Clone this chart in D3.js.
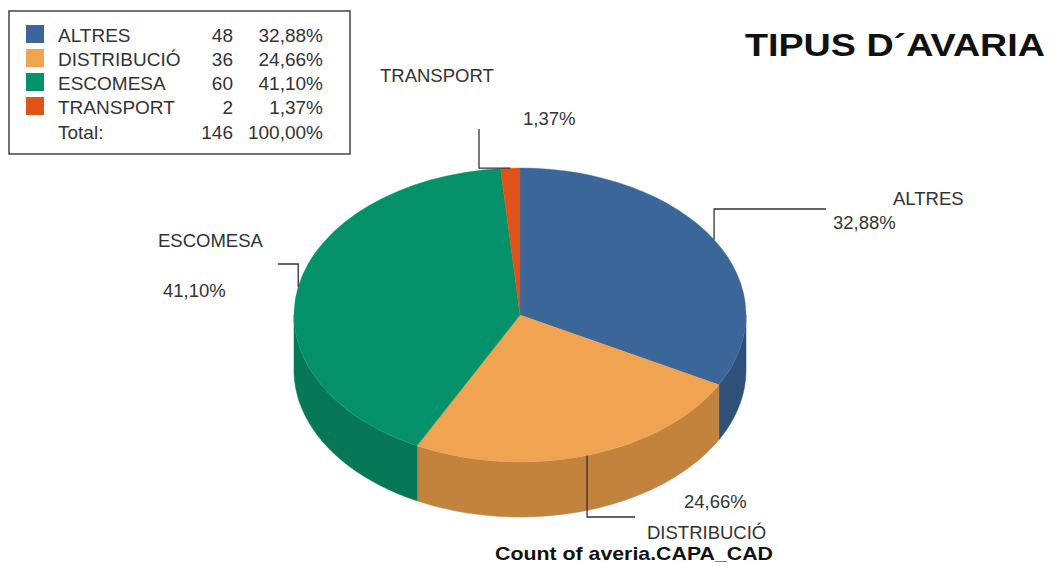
<!DOCTYPE html>
<html>
<head>
<meta charset="utf-8">
<script src="https://cdn.jsdelivr.net/npm/d3@7"></script>
<style>
  body { margin: 0; background: #fff; }
  svg { display: block; font-family: "Liberation Sans", Arial, sans-serif; }
</style>
</head>
<body>
<div id="chart"></div>
<script>
// data
var categories = ["ALTRES", "DISTRIBUCIÓ", "ESCOMESA", "TRANSPORT"];
var counts = [48, 36, 60, 2];
var topColors = ["#3b6699", "#f0a452", "#05926b", "#df5318"];
var sideColors = ["#2e5079", "#c2833e", "#067757", "#b8441a"];
var totalLabel = "Total:";

var width = 1054, height = 568;
var cx = 520, cy = 315, rx = 226, ry = 147, depth = 55;

var total = d3.sum(counts);
var fmt = function (v) { return d3.format(".2f")(v).replace(".", ","); };
var pct = counts.map(function (c) { return fmt(c / total * 100) + "%"; });

var svg = d3.select("#chart").append("svg")
  .attr("width", width).attr("height", height);

var pie = d3.pie().sort(null).value(function (d) { return d; });
var arcs = pie(counts);

// point on the top ellipse for an angle (0 = 12 o'clock, clockwise)
function pt(a, dy) {
  return [cx + rx * Math.sin(a), cy - ry * Math.cos(a) + (dy || 0)];
}

// side walls, only the front half is visible
var side = svg.append("g");
arcs.forEach(function (d, i) {
  var a0 = Math.max(d.startAngle, Math.PI / 2),
      a1 = Math.min(d.endAngle, Math.PI * 1.5);
  if (a1 <= a0) return;
  var n = 60, top = [], bot = [];
  for (var k = 0; k <= n; k++) {
    var a = a0 + (a1 - a0) * k / n;
    top.push(pt(a));
    bot.push(pt(a, depth));
  }
  var pts = top.concat(bot.reverse());
  side.append("path")
    .attr("d", d3.line()(pts) + "Z")
    .attr("fill", sideColors[i])
    .attr("stroke", sideColors[i])
    .attr("stroke-width", 0.5);
});

// top face: circle arc squashed into an ellipse
var arc = d3.arc().innerRadius(0).outerRadius(rx);
svg.append("g")
  .attr("transform", "translate(" + cx + "," + cy + ") scale(1," + (ry / rx) + ")")
  .selectAll("path").data(arcs).enter().append("path")
  .attr("d", arc)
  .attr("fill", function (d, i) { return topColors[i]; })
  .attr("stroke", function (d, i) { return topColors[i]; })
  .attr("stroke-width", 0.5);

// labels with leader lines
var labelLayout = [
  { path: ["v", 209, "h", 826], name: [893, 205], value: [833, 229] },
  { path: ["v", 517, "h", 635], name: [647, 539], value: [684, 508] },
  { path: ["v", 264, "h", 278], name: [158, 247], value: [163, 297] },
  { path: ["h", 479, "v", 129], name: [380, 82], value: [523, 125] }
];

var lab = svg.append("g");
arcs.forEach(function (d, i) {
  var L = labelLayout[i];
  var a = (d.startAngle + d.endAngle) / 2;
  var p = pt(a);
  var x = p[0], y = p[1], pts = [[x, y]];
  for (var k = 0; k < L.path.length; k += 2) {
    if (L.path[k] === "v") y = L.path[k + 1]; else x = L.path[k + 1];
    pts.push([x, y]);
  }
  lab.append("path")
    .attr("d", d3.line()(pts))
    .attr("fill", "none")
    .attr("stroke", "#333")
    .attr("stroke-width", 1.3);
  lab.append("text")
    .attr("x", L.name[0]).attr("y", L.name[1])
    .attr("font-size", 18.5).attr("fill", "#333")
    .text(categories[i]);
  lab.append("text")
    .attr("x", L.value[0]).attr("y", L.value[1])
    .attr("font-size", 18.5).attr("fill", "#333")
    .text(pct[i]);
});

// title
svg.append("text")
  .attr("x", 745).attr("y", 56)
  .attr("font-size", 32).attr("font-weight", "bold").attr("fill", "#111")
  .attr("textLength", 300).attr("lengthAdjust", "spacingAndGlyphs")
  .text("TIPUS D´AVARIA");

svg.append("text")
  .attr("x", 495).attr("y", 560)
  .attr("font-size", 19).attr("font-weight", "bold").attr("fill", "#111")
  .attr("textLength", 278).attr("lengthAdjust", "spacingAndGlyphs")
  .text("Count of averia.CAPA_CAD");

// legend
var leg = svg.append("g");
leg.append("rect")
  .attr("x", 9).attr("y", 11).attr("width", 341).attr("height", 143)
  .attr("fill", "#fff").attr("stroke", "#444").attr("stroke-width", 1.5);

var fs = 19;
var rowY = d3.scaleLinear().domain([0, 1]).range([42, 66]);
categories.forEach(function (c, i) {
  var y = rowY(i);
  leg.append("rect")
    .attr("x", 26).attr("y", y - 17).attr("width", 18).attr("height", 18)
    .attr("fill", topColors[i]);
  leg.append("text").attr("x", 58).attr("y", y)
    .attr("font-size", fs).attr("fill", "#333").text(c);
  leg.append("text").attr("x", 233).attr("y", y).attr("text-anchor", "end")
    .attr("font-size", fs).attr("fill", "#333").text(counts[i]);
  leg.append("text").attr("x", 323).attr("y", y).attr("text-anchor", "end")
    .attr("font-size", fs).attr("fill", "#333").text(pct[i]);
});
var ty = rowY(categories.length) + 1;
leg.append("text").attr("x", 58).attr("y", ty)
  .attr("font-size", fs).attr("fill", "#333").text(totalLabel);
leg.append("text").attr("x", 233).attr("y", ty).attr("text-anchor", "end")
  .attr("font-size", fs).attr("fill", "#333").text(total);
leg.append("text").attr("x", 323).attr("y", ty).attr("text-anchor", "end")
  .attr("font-size", fs).attr("fill", "#333").text(fmt(100) + "%");
</script>
</body>
</html>
